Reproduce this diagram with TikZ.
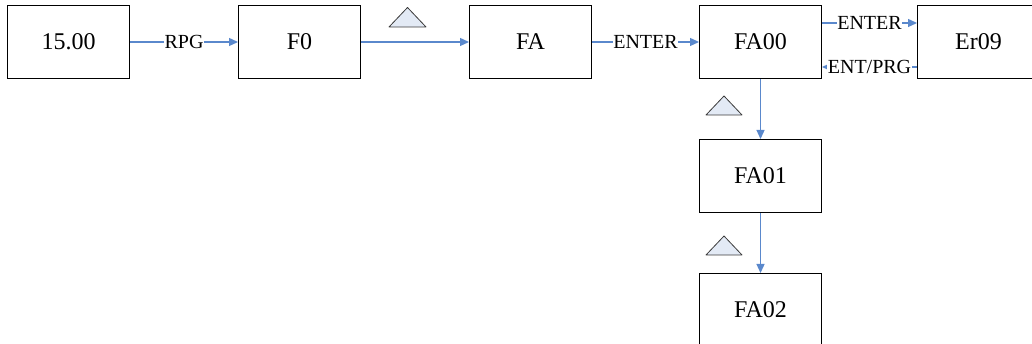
\documentclass[tikz,border=0pt]{standalone}
\usepackage{fontspec}
\setmainfont{Liberation Serif}
\usetikzlibrary{arrows.meta}
\definecolor{linkblue}{HTML}{5A88CC}
\definecolor{trifill}{HTML}{E3EAF5}
\definecolor{trieedge}{HTML}{3A3A3A}
\tikzset{
  box/.style={draw=black, line width=1pt, minimum width=122pt, minimum height=73pt, inner sep=0pt, font=\fontsize{24}{28}\selectfont, anchor=north west},
  link/.style={draw=linkblue, line width=1.3pt, -{Triangle[length=9pt,width=8pt]}},
  lbl/.style={fill=white, inner sep=0.5pt, font=\fontsize{20}{24}\selectfont, text=black},
  tri/.style={fill=trifill, draw=trieedge, line width=0.8pt, line join=round}
}
\begin{document}
\begin{tikzpicture}[x=1pt,y=-1pt]
\useasboundingbox (0,0) rectangle (1032,344);
\begin{scope}
\clip (0,0) rectangle (1032,344);
\node[box] (s) at (7,5) {15.00};
\node[box] (f0) at (238,5) {F0};
\node[box] (fa) at (469,5) {FA};
\node[box] (fa00) at (699,5) {FA00};
\node[box] (er) at (917,5) {Er09};
\node[box] (fa01) at (699,139) {FA01};
\node[box] (fa02) at (699,273) {FA02};

\draw[link] (s.east) -- node[lbl] {RPG} (f0.west);
\draw[link] (f0.east) -- (fa.west);
\draw[link] (fa.east) -- node[lbl] {ENTER} (fa00.west);
\draw[link] ([yshift=19pt]fa00.east) -- node[lbl] {ENTER} ([yshift=19pt]er.west);
\draw[link] ([yshift=-25pt]er.west) -- node[lbl] {ENT/PRG} ([yshift=-25pt]fa00.east);
\draw[link] (fa00.south) -- (fa01.north);
\draw[link] (fa01.south) -- (fa02.north);

\draw[tri] (389,27) -- (407.5,7.5) -- (426,27) -- cycle;
\draw[tri] (706,115) -- (724,96) -- (742,115) -- cycle;
\draw[tri] (706,255) -- (724,236) -- (742,255) -- cycle;
\end{scope}
\end{tikzpicture}
\end{document}
